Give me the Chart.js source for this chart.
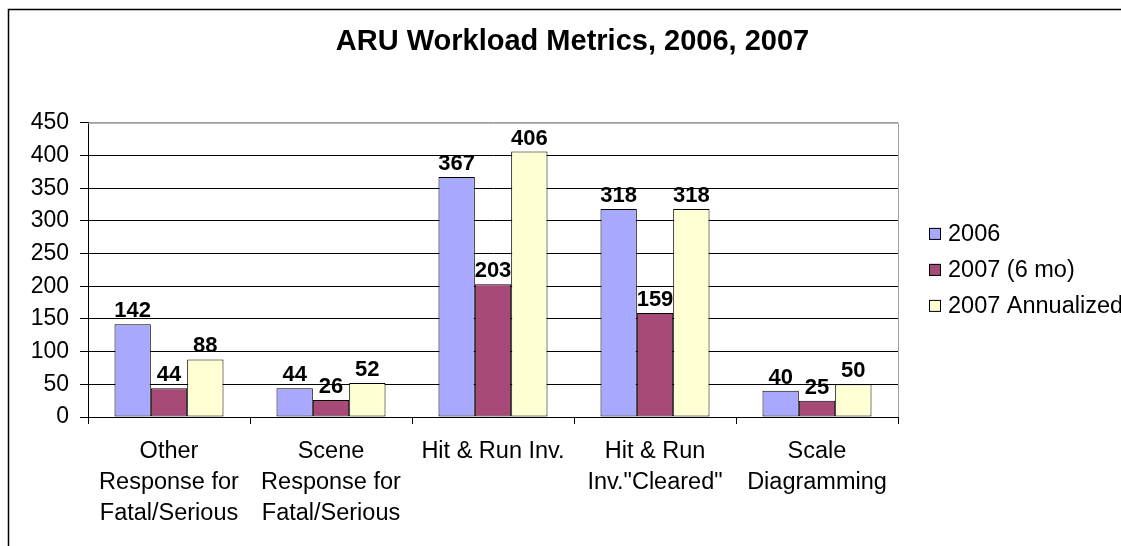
<!DOCTYPE html>
<html>
<head>
<meta charset="utf-8">
<script src="https://cdn.jsdelivr.net/npm/chart.js@4/dist/chart.umd.min.js"></script>
<style>
  html, body { margin: 0; padding: 0; background: #fff; overflow: hidden; }
</style>
</head>
<body>
<canvas id="aru-chart" width="1145" height="546"></canvas>
<script>
// categorias y series
const categories = [
    ['Other', 'Response for', 'Fatal/Serious'],
    ['Scene', 'Response for', 'Fatal/Serious'],
    'Hit & Run Inv.',
    ['Hit & Run', 'Inv."Cleared"'],
    ['Scale', 'Diagramming']
];
const values2006 = [142, 44, 367, 318, 40];
const values2007 = [44, 26, 203, 159, 25];
const values2007Annual = [88, 52, 406, 318, 50];
const seriesNames = ['2006', '2007 (6 mo)', '2007 Annualized'];
const yTicks = [0, 50, 100, 150, 200, 250, 300, 350, 400, 450];

const FONT = "'Liberation Sans', Arial, sans-serif";

// marco negro alrededor del grafico + borde gris del area de trazado
const framePlugin = {
    id: 'frame',
    beforeDraw(chart) {
        const ctx = chart.ctx;
        ctx.save();
        ctx.fillStyle = '#fff';
        ctx.fillRect(0, 0, chart.width, chart.height);
        ctx.strokeStyle = '#000';
        ctx.lineWidth = 1.5;
        ctx.strokeRect(8.5, 9.5, chart.width + 20, chart.height + 20);
        ctx.restore();
    },
    beforeDatasetsDraw(chart) {
        const a = chart.chartArea;
        const ctx = chart.ctx;
        ctx.save();
        ctx.strokeStyle = '#a0a0a0';
        ctx.lineWidth = 1;
        ctx.beginPath();
        ctx.moveTo(a.left, a.top + 0.5);
        ctx.lineTo(a.right + 0.5, a.top + 0.5);
        ctx.lineTo(a.right + 0.5, a.bottom);
        ctx.stroke();
        ctx.restore();
    }
};

// etiquetas de valor encima de cada barra
const valueLabels = {
    id: 'valueLabels',
    afterDatasetsDraw(chart) {
        const ctx = chart.ctx;
        ctx.save();
        ctx.font = 'bold 22px ' + FONT;
        ctx.fillStyle = '#000';
        ctx.textAlign = 'center';
        ctx.textBaseline = 'alphabetic';
        chart.data.datasets.forEach((ds, i) => {
            chart.getDatasetMeta(i).data.forEach((bar, j) => {
                ctx.fillText(String(ds.data[j]), bar.x, bar.y - 7);
            });
        });
        ctx.restore();
    }
};

// leyenda a la derecha (recortada por el borde como en el original)
const sideLegend = {
    id: 'sideLegend',
    afterDraw(chart) {
        const a = chart.chartArea;
        const ctx = chart.ctx;
        const x0 = a.right + 31;
        const mid = (a.top + a.bottom) / 2;
        ctx.save();
        ctx.font = '23.5px ' + FONT;
        ctx.textBaseline = 'middle';
        chart.data.datasets.forEach((ds, i) => {
            const y = mid + (i - 1) * 36;
            ctx.fillStyle = ds.backgroundColor;
            ctx.fillRect(x0, y - 6, 12, 12);
            ctx.strokeStyle = '#000';
            ctx.lineWidth = 1;
            ctx.strokeRect(x0 + 0.5, y - 5.5, 11, 11);
            ctx.fillStyle = '#000';
            ctx.fillText(ds.label, x0 + 19, y + 1);
        });
        ctx.restore();
    }
};

document.addEventListener('DOMContentLoaded', () => {
    const ctx = document.getElementById('aru-chart').getContext('2d');

    const data = {
        labels: categories,
        datasets: [
            { label: seriesNames[0], data: values2006, backgroundColor: '#a8a8ff' },
            { label: seriesNames[1], data: values2007, backgroundColor: '#a84a78' },
            { label: seriesNames[2], data: values2007Annual, backgroundColor: '#ffffd4' }
        ].map(ds => Object.assign(ds, {
            borderColor: '#000',
            borderWidth: 1,
            borderSkipped: false,
            categoryPercentage: 0.673,
            barPercentage: 1
        }))
    };

    const config = {
        type: 'bar',
        data: data,
        options: {
            responsive: false,
            animation: false,
            layout: { padding: 0 },
            plugins: {
                legend: { display: false },
                tooltip: { enabled: false },
                title: {
                    display: true,
                    text: 'ARU Workload Metrics, 2006, 2007',
                    color: '#000',
                    font: { family: FONT, size: 29, weight: 'bold' },
                    padding: { top: 25, bottom: 63 }
                }
            },
            scales: {
                x: {
                    offset: true,
                    grid: {
                        offset: true,
                        drawOnChartArea: false,
                        drawTicks: true,
                        tickLength: 7,
                        color: '#000'
                    },
                    border: { color: '#000', width: 1 },
                    ticks: {
                        color: '#000',
                        font: { family: FONT, size: 23.5, lineHeight: 1.32 },
                        padding: 12,
                        maxRotation: 0,
                        autoSkip: false
                    },
                    afterFit(scale) { scale.height = 129; }
                },
                y: {
                    min: 0,
                    max: 450,
                    afterBuildTicks(scale) { scale.ticks = yTicks.map(v => ({ value: v })); },
                    grid: {
                        color: ctx => ctx.tick && ctx.tick.value === 450 ? '#a0a0a0' : '#000',
                        tickLength: 8,
                        tickColor: '#000'
                    },
                    border: { color: '#000', width: 1 },
                    ticks: {
                        color: '#000',
                        font: { family: FONT, size: 23 },
                        padding: 11
                    },
                    afterFit(scale) { scale.width = 88; }
                },
                // espacio vacio a la derecha donde va la leyenda
                legendSpace: {
                    type: 'linear',
                    position: 'right',
                    grid: { display: false },
                    border: { display: false },
                    ticks: { display: false },
                    afterFit(scale) { scale.width = 247; }
                }
            }
        },
        plugins: [framePlugin, valueLabels, sideLegend]
    };

    new Chart(ctx, config);
});
</script>
</body>
</html>
